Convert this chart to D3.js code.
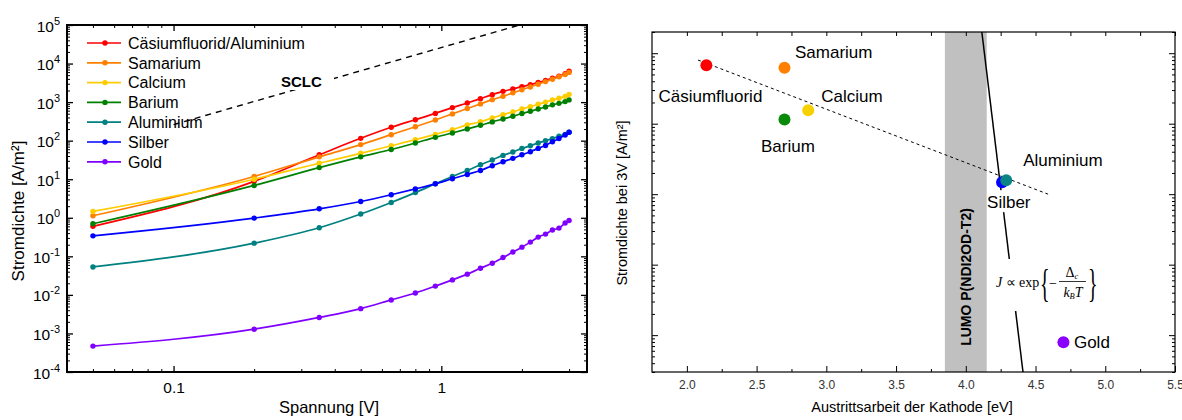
<!DOCTYPE html>
<html>
<head>
<meta charset="utf-8">
<script src="https://cdn.jsdelivr.net/npm/d3@7"></script>
<style>
  body { margin: 0; background: #fff; }
  svg { display: block; font-family: "Liberation Sans", Arial, sans-serif; }
</style>
</head>
<body>
<svg id="chart" width="1182" height="420"></svg>
<script>
// ---------- data: current density vs. voltage ----------
const voltages = [0.05, 0.2, 0.35, 0.5, 0.65, 0.8, 0.95, 1.1, 1.25, 1.4, 1.55, 1.7, 1.85, 2.0, 2.15, 2.3, 2.45, 2.6, 2.75, 2.9, 3.0];
const seriesNames = ["Cäsiumfluorid/Aluminium", "Samarium", "Calcium", "Barium", "Aluminium", "Silber", "Gold"];
const seriesColors = ["#ff0000", "#ff8000", "#ffcc00", "#008000", "#008080", "#0000ff", "#8000ff"];
const jCsFAl = [0.6, 8.8, 43, 115, 222, 350, 510, 720, 950, 1230, 1560, 1900, 2200, 2520, 2830, 3220, 3620, 4140, 4690, 5450, 6350];
const jSamarium = [1.13, 11.8, 38, 79, 143, 230, 345, 495, 680, 900, 1160, 1410, 1740, 2100, 2470, 2900, 3400, 3900, 4550, 5200, 5900];
const jCalcium = [1.46, 10, 26, 47, 74, 106, 146, 193, 257, 310, 388, 473, 556, 665, 763, 877, 1000, 1140, 1260, 1410, 1590];
const jBarium = [0.7, 6.9, 20, 38, 59, 87, 122, 158, 201, 250, 307, 365, 428, 505, 577, 665, 750, 850, 930, 1030, 1140];
const jAluminium = [0.053, 0.22, 0.55, 1.25, 2.5, 4.5, 7.6, 11.8, 16.9, 23.8, 31.6, 41.5, 50.8, 63, 74, 87, 100, 113, 130, 146, 165];
const jSilber = [0.34, 0.98, 1.71, 2.65, 3.96, 5.6, 7.6, 10.3, 13.3, 16.9, 22.4, 28.5, 34.8, 43, 51.6, 63, 75, 94, 114, 140, 165];
const jGold = [0.00047, 0.00129, 0.0026, 0.0044, 0.0074, 0.0112, 0.0169, 0.0245, 0.0345, 0.049, 0.066, 0.093, 0.129, 0.173, 0.234, 0.315, 0.377, 0.48, 0.54, 0.73, 0.85];
const seriesValues = [jCsFAl, jSamarium, jCalcium, jBarium, jAluminium, jSilber, jGold];

// space-charge-limited current guide, J ∝ V²
const sclcV = [0.1, 2.0];
const sclcJ = [260, 104000];

const leftXTicks = [0.1, 1];
const leftXMinor = [0.05, 0.06, 0.07, 0.08, 0.09, 0.2, 0.3, 0.4, 0.5, 0.6, 0.7, 0.8, 0.9, 2, 3];
const leftYExponents = [-4, -3, -2, -1, 0, 1, 2, 3, 4, 5];

// ---------- data: current density at 3 V vs. cathode work function ----------
const cathodes = ["Cäsiumfluorid", "Samarium", "Calcium", "Barium", "Aluminium", "Silber", "Gold"];
const workFunction = [2.14, 2.7, 2.87, 2.7, 4.29, 4.26, 4.7];
const j3V = [6760, 6200, 1550, 1150, 158, 148, 0.79];
const cathodeColors = ["#ff0000", "#ff8000", "#f7d000", "#0a8a0a", "#0a8484", "#0000ff", "#8a00ff"];
// label placement: [text-anchor, dx, dy] in px relative to the marker centre
const cathodeLabelOffsets = [["middle", 4, 31], ["start", 10.5, -15.5], ["start", 13, -14], ["start", -23.5, 27], ["start", 17, -20], ["start", -15, 20], ["start", 10.5, 0]];

const fitE = [2.08, 4.59];
const fitJ = [8000, 100];
const lumoBand = [3.85, 4.15];
const lumoLineE = [4.115, 4.41];
const lumoLineJ = [20000, 0.3];
const rightXTicks = [2.0, 2.5, 3.0, 3.5, 4.0, 4.5, 5.0, 5.5];
const rightXMinor = [2.25, 2.75, 3.25, 3.75, 4.25, 4.75, 5.25];

const svg = d3.select("#chart");

function tickAxis(g, axis) { g.call(axis); g.select(".domain").remove(); g.selectAll(".tick line").attr("stroke", "#000"); }

// =====================================================================
// Left panel: J–V curves
// =====================================================================
const L = { left: 67, right: 587, top: 25, bottom: 372 };
const xL = d3.scaleLog().domain([0.04, 3.5]).range([L.left, L.right]);
const yL = d3.scaleLog().domain([1e-4, 1e5]).range([L.bottom, L.top]);

const gL = svg.append("g");

gL.append("clipPath").attr("id", "clipL").append("rect")
  .attr("x", L.left).attr("y", L.top).attr("width", L.right - L.left).attr("height", L.bottom - L.top);

const yMinor = [];
leftYExponents.slice(0, -1).forEach(e => { for (let m = 2; m <= 9; m++) yMinor.push(m * Math.pow(10, e)); });
const yMajor = leftYExponents.map(e => Math.pow(10, e));

gL.append("g").attr("transform", `translate(${L.left},0)`)
  .call(g => tickAxis(g, d3.axisLeft(yL).tickValues(yMajor).tickSize(-6).tickFormat("")))
  .selectAll("line").attr("stroke-width", 1.3);
gL.append("g").attr("transform", `translate(${L.left},0)`)
  .call(g => tickAxis(g, d3.axisLeft(yL).tickValues(yMinor).tickSize(-3).tickFormat("")));
gL.append("g").attr("transform", `translate(${L.right},0)`)
  .call(g => tickAxis(g, d3.axisRight(yL).tickValues(yMajor).tickSize(-6).tickFormat("")))
  .selectAll("line").attr("stroke-width", 1.3);
gL.append("g").attr("transform", `translate(${L.right},0)`)
  .call(g => tickAxis(g, d3.axisRight(yL).tickValues(yMinor).tickSize(-3).tickFormat("")));

gL.append("g").attr("transform", `translate(0,${L.bottom})`)
  .call(g => tickAxis(g, d3.axisBottom(xL).tickValues(leftXTicks).tickSize(-6).tickPadding(10).tickFormat(d3.format("~g"))))
  .call(g => g.selectAll("text").attr("font-size", 15.5).attr("fill", "#000").attr("font-family", "Liberation Sans, Arial, sans-serif"))
  .selectAll("line").attr("stroke-width", 1.3);
gL.append("g").attr("transform", `translate(0,${L.bottom})`)
  .call(g => tickAxis(g, d3.axisBottom(xL).tickValues(leftXMinor).tickSize(-3).tickFormat("")));
gL.append("g").attr("transform", `translate(0,${L.top})`)
  .call(g => tickAxis(g, d3.axisTop(xL).tickValues(leftXTicks).tickSize(-6).tickFormat("")))
  .selectAll("line").attr("stroke-width", 1.3);
gL.append("g").attr("transform", `translate(0,${L.top})`)
  .call(g => tickAxis(g, d3.axisTop(xL).tickValues(leftXMinor).tickSize(-3).tickFormat("")));

// y tick labels as powers of ten
leftYExponents.forEach(e => {
  const t = gL.append("text").attr("x", 60).attr("y", yL(Math.pow(10, e)) + 6.5)
    .attr("text-anchor", "end").attr("font-size", 15.5).attr("fill", "#000");
  t.append("tspan").text("10");
  t.append("tspan").attr("dy", -7).attr("font-size", 11).text(String(e));
});

// SCLC guide
gL.append("path")
  .attr("clip-path", "url(#clipL)")
  .attr("d", d3.line().x(d => xL(d[0])).y(d => yL(d[1]))(d3.zip(sclcV, sclcJ)))
  .attr("fill", "none").attr("stroke", "#000").attr("stroke-width", 1.4).attr("stroke-dasharray", "6,5");
gL.append("rect").attr("x", 278).attr("y", 73).attr("width", 56).attr("height", 17).attr("fill", "#fff");
gL.append("text").attr("x", 281).attr("y", 87).attr("font-size", 15).attr("font-weight", "bold").text("SCLC");

// curves
const lineL = d3.line().x(d => xL(d[0])).y(d => yL(d[1])).curve(d3.curveMonotoneX);
seriesValues.forEach((vals, i) => {
  const pts = d3.zip(voltages, vals);
  const g = gL.append("g");
  g.append("path").attr("d", lineL(pts)).attr("fill", "none")
    .attr("stroke", seriesColors[i]).attr("stroke-width", 1.7);
  g.selectAll("circle").data(pts).join("circle")
    .attr("cx", d => xL(d[0])).attr("cy", d => yL(d[1])).attr("r", 2.7)
    .attr("fill", seriesColors[i]);
});

// legend
const legend = gL.append("g");
seriesNames.forEach((name, i) => {
  const y = 43 + i * 19.8;
  legend.append("line").attr("x1", 87).attr("x2", 121).attr("y1", y).attr("y2", y)
    .attr("stroke", seriesColors[i]).attr("stroke-width", 1.7);
  legend.append("circle").attr("cx", 105).attr("cy", y).attr("r", 2.7).attr("fill", seriesColors[i]);
  legend.append("text").attr("x", 128).attr("y", y + 5.7).attr("font-size", 16).attr("fill", "#000").text(name);
});

// frame
gL.append("rect").attr("x", L.left).attr("y", L.top).attr("width", L.right - L.left).attr("height", L.bottom - L.top)
  .attr("fill", "none").attr("stroke", "#000").attr("stroke-width", 2);

// axis titles
gL.append("text").attr("x", 329).attr("y", 413).attr("text-anchor", "middle").attr("font-size", 16.5).text("Spannung [V]");
gL.append("text").attr("transform", "translate(24,211) rotate(-90)").attr("text-anchor", "middle")
  .attr("font-size", 17).text("Stromdichte [A/m²]");

// =====================================================================
// Right panel: J at 3 V vs. cathode work function
// =====================================================================
const R = { left: 652, right: 1175, top: 32, bottom: 372 };
const xR = d3.scaleLinear().domain([1.75, 5.5]).range([R.left, R.right]);
const yR = d3.scaleLog().domain([0.3, 20000]).range([R.bottom, R.top]);
const gR = svg.append("g");

gR.append("clipPath").attr("id", "clipR").append("rect")
  .attr("x", R.left).attr("y", R.top).attr("width", R.right - R.left).attr("height", R.bottom - R.top);

// LUMO band
gR.append("rect").attr("x", xR(lumoBand[0])).attr("y", R.top)
  .attr("width", xR(lumoBand[1]) - xR(lumoBand[0])).attr("height", R.bottom - R.top).attr("fill", "#c0c0c0");
gR.append("text")
  .attr("transform", `translate(${(xR(lumoBand[0]) + xR(lumoBand[1])) / 2 + 5},277) rotate(-90)`)
  .attr("text-anchor", "middle").attr("font-size", 14).attr("font-weight", "bold").text("LUMO P(NDI2OD-T2)");

// fit line through the data
gR.append("path").attr("clip-path", "url(#clipR)")
  .attr("d", d3.line().x(d => xR(d[0])).y(d => yR(d[1]))(d3.zip(fitE, fitJ)))
  .attr("fill", "none").attr("stroke", "#000").attr("stroke-width", 1).attr("stroke-dasharray", "3,3");

// steep injection-barrier line
gR.append("path").attr("clip-path", "url(#clipR)")
  .attr("d", d3.line().x(d => xR(d[0])).y(d => yR(d[1]))(d3.zip(lumoLineE, lumoLineJ)))
  .attr("fill", "none").attr("stroke", "#000").attr("stroke-width", 1.5);

// formula with white backing
gR.append("rect").attr("x", 992).attr("y", 259).attr("width", 108).attr("height", 52).attr("fill", "#fff");
const fm = gR.append("g").attr("font-family", "Liberation Serif, Times New Roman, serif").attr("font-size", 14).attr("fill", "#000");
fm.append("text").attr("x", 996).attr("y", 287).attr("font-style", "italic").text("J");
fm.append("text").attr("x", 1006).attr("y", 287).text("∝");
fm.append("text").attr("x", 1019).attr("y", 287).text("exp");
fm.append("text").attr("transform", "translate(1040,297) scale(0.5,1)").attr("font-size", 40).text("{");
fm.append("text").attr("x", 1049).attr("y", 288).text("−");
const num = fm.append("text").attr("x", 1072).attr("y", 277).attr("text-anchor", "middle");
num.append("tspan").text("Δ");
num.append("tspan").attr("font-size", 8.5).attr("font-style", "italic").attr("dy", 2).text("c");
fm.append("line").attr("x1", 1059).attr("x2", 1086).attr("y1", 281.5).attr("y2", 281.5).attr("stroke", "#000").attr("stroke-width", 0.8);
const den = fm.append("text").attr("x", 1073).attr("y", 297).attr("text-anchor", "middle").attr("font-style", "italic");
den.append("tspan").text("k");
den.append("tspan").attr("font-size", 8.5).attr("dy", 2).text("B");
den.append("tspan").attr("dy", -2).text("T");
fm.append("text").attr("transform", "translate(1088,297) scale(0.5,1)").attr("font-size", 40).text("}");

// labels
cathodes.forEach((name, i) => {
  const cx = xR(workFunction[i]), cy = yR(j3V[i]);
  const [anchor, dx, dy] = cathodeLabelOffsets[i];
  if (name === "Silber") {
    gR.append("rect").attr("x", cx - 14).attr("y", cy + 8).attr("width", 48).attr("height", 22).attr("fill", "#fff");
  }
  gR.append("text").attr("x", cx + dx).attr("y", cy + dy + 6)
    .attr("text-anchor", anchor).attr("font-size", 17).attr("fill", "#000").text(name);
});

// markers (Aluminium drawn over Silber)
const order = [0, 1, 2, 3, 5, 4, 6];
order.forEach(i => {
  gR.append("circle").attr("cx", xR(workFunction[i])).attr("cy", yR(j3V[i])).attr("r", 6).attr("fill", cathodeColors[i]);
});

// axes
const rYMajor = [1, 10, 100, 1000, 10000];
const rYMinor = [];
[-1, 0, 1, 2, 3, 4].forEach(e => { for (let m = 2; m <= 9; m++) { const v = m * Math.pow(10, e); if (v >= 0.3 && v <= 20000) rYMinor.push(v); } });

gR.append("g").attr("transform", `translate(${R.left},0)`)
  .call(g => tickAxis(g, d3.axisLeft(yR).tickValues(rYMajor).tickSize(-6).tickFormat("")));
gR.append("g").attr("transform", `translate(${R.left},0)`)
  .call(g => tickAxis(g, d3.axisLeft(yR).tickValues(rYMinor).tickSize(-3).tickFormat("")));
gR.append("g").attr("transform", `translate(${R.right},0)`)
  .call(g => tickAxis(g, d3.axisRight(yR).tickValues(rYMajor).tickSize(-6).tickFormat("")));
gR.append("g").attr("transform", `translate(${R.right},0)`)
  .call(g => tickAxis(g, d3.axisRight(yR).tickValues(rYMinor).tickSize(-3).tickFormat("")));
gR.append("g").attr("transform", `translate(0,${R.bottom})`)
  .call(g => tickAxis(g, d3.axisBottom(xR).tickValues(rightXTicks).tickSize(-6).tickPadding(8.5).tickFormat(d3.format(".1f"))))
  .call(g => g.selectAll("text").attr("font-size", 12).attr("fill", "#333").attr("font-family", "Liberation Sans, Arial, sans-serif"));
gR.append("g").attr("transform", `translate(0,${R.bottom})`)
  .call(g => tickAxis(g, d3.axisBottom(xR).tickValues(rightXMinor).tickSize(-3).tickFormat("")));
gR.append("g").attr("transform", `translate(0,${R.top})`)
  .call(g => tickAxis(g, d3.axisTop(xR).tickValues(rightXTicks.concat(rightXMinor)).tickSize(-4).tickFormat("")));

gR.append("rect").attr("x", R.left).attr("y", R.top).attr("width", R.right - R.left).attr("height", R.bottom - R.top)
  .attr("fill", "none").attr("stroke", "#000").attr("stroke-width", 1.2);

gR.append("text").attr("x", 912).attr("y", 412).attr("text-anchor", "middle").attr("font-size", 14.5).text("Austrittsarbeit der Kathode [eV]");
gR.append("text").attr("transform", "translate(627,203) rotate(-90)").attr("text-anchor", "middle")
  .attr("font-size", 14.5).text("Stromdichte bei 3V [A/m²]");
</script>
</body>
</html>
